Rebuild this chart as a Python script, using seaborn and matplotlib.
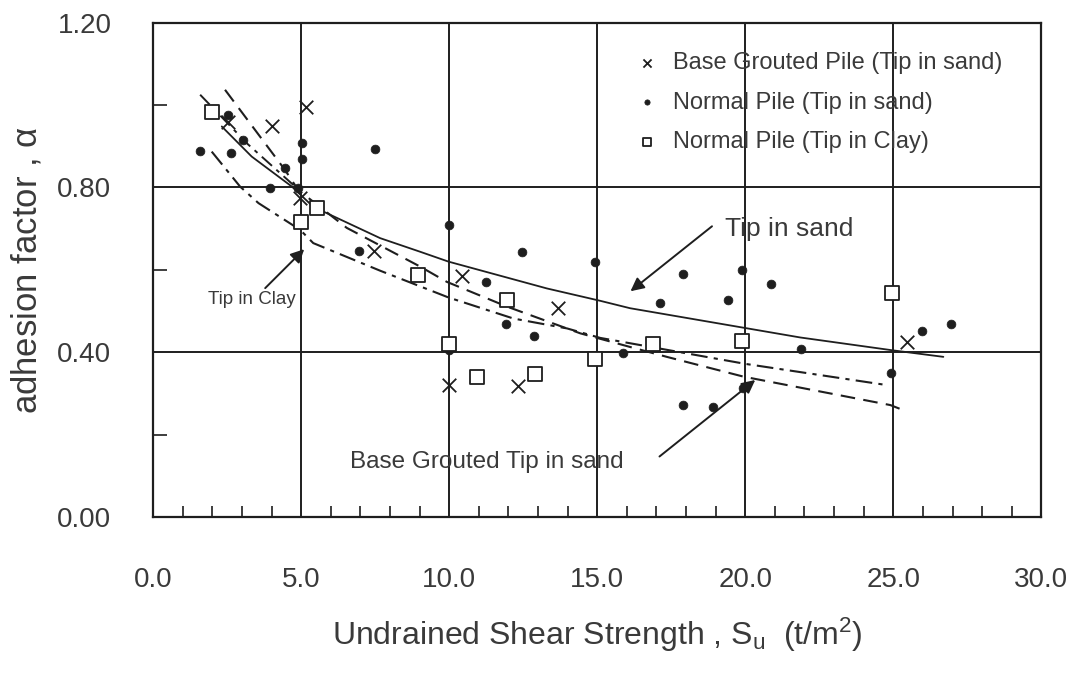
import matplotlib
matplotlib.use("Agg")
import matplotlib.pyplot as plt
import seaborn as sns
import numpy as np

# ---------------- data ----------------
# Base grouted pile (tip in sand)  -> "x" markers
bg_su = [2.54, 4.01, 5.15, 4.97, 7.47, 10.43, 13.69, 9.98, 12.34, 25.46]
bg_alpha = [0.960, 0.950, 0.995, 0.774, 0.647, 0.585, 0.507, 0.320, 0.318, 0.426]

# Normal pile (tip in sand) -> filled dots
ns_su = [2.52, 1.59, 2.64, 3.03, 5.02, 5.02, 4.46, 7.48, 3.95, 4.91, 6.94, 9.98,
         12.46, 14.93, 8.85, 11.25, 11.93, 12.88, 9.98, 15.88, 17.90, 19.89,
         20.88, 17.13, 19.42, 21.89, 19.94, 17.90, 18.91, 24.93, 25.97, 26.95]
ns_alpha = [0.976, 0.889, 0.883, 0.915, 0.907, 0.868, 0.847, 0.893, 0.798, 0.798,
            0.647, 0.709, 0.643, 0.620, 0.583, 0.571, 0.468, 0.439, 0.405, 0.399,
            0.589, 0.600, 0.566, 0.520, 0.527, 0.409, 0.313, 0.272, 0.268, 0.349,
            0.452, 0.469]

# Normal pile (tip in clay) -> open squares
nc_su = [1.98, 5.53, 5.00, 8.94, 11.95, 9.98, 10.94, 12.91, 14.91, 16.90, 19.89, 24.95]
nc_alpha = [0.983, 0.749, 0.717, 0.588, 0.527, 0.420, 0.339, 0.347, 0.385, 0.420,
            0.428, 0.543]

sand_su = [2.32, 3.33, 4.69, 5.41, 7.67, 9.02, 9.98, 13.30, 15.10, 16.11, 21.86, 24.96, 26.69]
sand_alpha = [0.948, 0.875, 0.802, 0.753, 0.677, 0.644, 0.620, 0.555, 0.525, 0.507,
              0.436, 0.405, 0.389]

grout_su = [2.43, 4.46, 4.90, 6.54, 9.02, 9.92, 11.95, 14.43, 16.11, 17.35, 19.94, 24.90, 25.29]
grout_alpha = [1.037, 0.842, 0.794, 0.702, 0.608, 0.571, 0.511, 0.446, 0.413, 0.389,
               0.341, 0.272, 0.261]

upper_su = [1.59, 3.2, 4.80]
upper_alpha = [1.025, 0.905, 0.802]

clay_su = [1.98, 2.94, 3.56, 4.97, 5.41, 7.67, 9.98, 12.17, 13.98, 15.10, 20.0, 24.83]
clay_alpha = [0.887, 0.802, 0.762, 0.697, 0.665, 0.598, 0.533, 0.482, 0.458, 0.435,
              0.372, 0.320]

x_ticks = [0, 5, 10, 15, 20, 25, 30]
x_labels = ["0.0", "5.0", "10.0", "15.0", "20.0", "25.0", "30.0"]
y_ticks = [0.0, 0.4, 0.8, 1.2]
y_labels = ["0.00", "0.40", "0.80", "1.20"]

legend_labels = ["Base Grouted Pile (Tip in sand)",
                 "Normal Pile (Tip in sand)",
                 "Normal Pile (Tip in Clay)"]

# ---------------- style ----------------
sns.set_style("white")
plt.rcParams["font.family"] = ["Liberation Sans", "DejaVu Sans"]
plt.rcParams["mathtext.fontset"] = "custom"
plt.rcParams["mathtext.rm"] = "Liberation Sans"
plt.rcParams["mathtext.it"] = "Liberation Sans"
ink = "#1e1e1e"
txt = "#3a3a3a"

fig = plt.figure(figsize=(10.78, 6.85), dpi=100)
ax = fig.add_axes([0.142, 0.245, 0.824, 0.722])

# grid
ax.set_axisbelow(True)
ax.grid(True, which="major", color=ink, linewidth=1.4)

# curves
sns.lineplot(x=sand_su, y=sand_alpha, ax=ax, color=ink, linewidth=1.3, sort=False,
             estimator=None, linestyle="-")
sns.lineplot(x=grout_su, y=grout_alpha, ax=ax, color=ink, linewidth=1.5, sort=False,
             estimator=None, linestyle=(0, (7, 4)))
sns.lineplot(x=upper_su, y=upper_alpha, ax=ax, color=ink, linewidth=1.4, sort=False,
             estimator=None, linestyle=(0, (7, 3, 2, 3)))
sns.lineplot(x=clay_su, y=clay_alpha, ax=ax, color=ink, linewidth=1.5, sort=False,
             estimator=None, linestyle=(0, (8, 3, 2, 3)))

# points
sns.scatterplot(x=bg_su, y=bg_alpha, ax=ax, marker="x", s=95, color=ink,
                linewidth=1.3, label=legend_labels[0], zorder=5)
sns.scatterplot(x=ns_su, y=ns_alpha, ax=ax, marker="o", s=40, color=ink,
                edgecolor=ink, label=legend_labels[1], zorder=5)
sns.scatterplot(x=nc_su, y=nc_alpha, ax=ax, marker="s", s=115, facecolor="white",
                edgecolor=ink, linewidth=1.3, label=legend_labels[2], zorder=5)

# axes
ax.set_xlim(0, 30)
ax.set_ylim(0, 1.2)
ax.set_xticks(x_ticks)
ax.set_xticklabels(x_labels)
ax.set_yticks(y_ticks)
ax.set_yticklabels(y_labels)
ax.set_xticks(np.arange(1, 30, 1), minor=True)
ax.set_yticks([0.2, 0.6, 1.0], minor=True)
ax.tick_params(axis="x", which="major", length=0, pad=36, labelsize=20, labelcolor=txt)
ax.tick_params(axis="y", which="major", length=0, pad=30, labelsize=20, labelcolor=txt)
ax.tick_params(axis="x", which="minor", direction="in", length=8, width=1.2,
               color=ink, bottom=True, top=False)
ax.tick_params(axis="y", which="minor", direction="in", length=10, width=1.2,
               color=ink, left=True, right=False)
for sp in ax.spines.values():
    sp.set_color(ink)
    sp.set_linewidth(1.6)

ax.set_xlabel(r"Undrained Shear Strength , S$_\mathregular{u}$  (t/m$^\mathregular{2}$)",
              fontsize=23, color=txt, labelpad=16)
ax.set_ylabel(r"adhesion factor , $\alpha$", fontsize=25, color=txt, labelpad=10)

# annotations
arrow = dict(arrowstyle="-|>", color=ink, lw=1.4, mutation_scale=20)
ax.text(19.3, 0.699, "Tip in sand", fontsize=19, color=txt, va="center", ha="left")
ax.annotate("", xy=(16.05, 0.544), xytext=(18.95, 0.71), arrowprops=arrow)
ax.text(1.86, 0.527, "Tip in Clay", fontsize=13.5, color=txt, va="center", ha="left")
ax.annotate("", xy=(5.17, 0.655), xytext=(3.72, 0.551), arrowprops=arrow)
ax.text(6.66, 0.134, "Base Grouted Tip in sand", fontsize=17.5, color=txt,
        va="center", ha="left")
ax.annotate("", xy=(20.41, 0.337), xytext=(17.03, 0.143), arrowprops=arrow)

# legend
leg = ax.legend(loc="upper left", bbox_to_anchor=(0.535, 0.96), frameon=False,
                fontsize=17, handlelength=0.8, handletextpad=0.7, labelspacing=0.75,
                markerscale=0.6, borderaxespad=0)
for t in leg.get_texts():
    t.set_color(txt)

fig.savefig("out.png", dpi=100)
